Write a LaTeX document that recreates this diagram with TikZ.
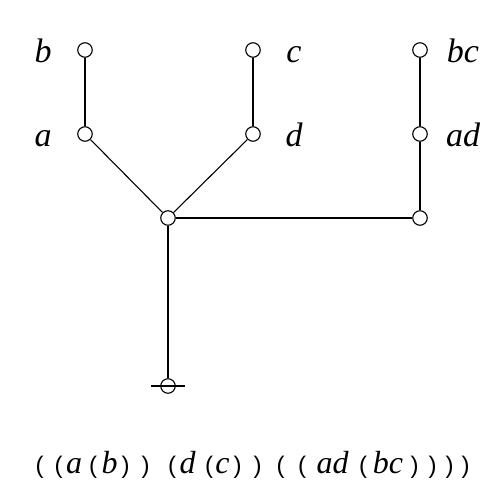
\documentclass[tikz,border=0pt]{standalone}
\usepackage{fontspec}
\setmainfont{Liberation Serif}
\newfontfamily\parfont{Liberation Sans}

\begin{document}
\begin{tikzpicture}[x=1pt, y=-1pt,
    vert/.style={circle, draw, fill=white, line width=1.1pt, minimum size=14.5pt, inner sep=0pt},
    lab/.style={anchor=base, inner sep=0pt, font=\fontsize{34}{38}\selectfont\itshape},
    word/.style={anchor=base, inner sep=0pt, font=\fontsize{32}{36}\selectfont\itshape},
    brk/.style={anchor=base, inner sep=0pt, font=\fontsize{24}{27}\selectfont\parfont}]
                    \useasboundingbox (0,0) rectangle (504,504);
                    
                    % Vertices
                    \node[vert] (b) at (85,50) {};
                    \node[vert] (a) at (85,134) {};
                    \node[vert] (c) at (253,50) {};
                    \node[vert] (d) at (253,134) {};
                    \node[vert] (bc) at (420,50) {};
                    \node[vert] (ad) at (420,134) {};
                    \node[vert] (mid) at (168,218) {};
                    \node[vert] (right) at (420,218) {};
                    \node[vert] (root) at (168,386) {};
                    
                    % Edges
                    \begin{scope}[line width=1.1pt]
                    \draw (b) -- (a);
                    \draw (c) -- (d);
                    \draw (bc) -- (ad);
                    \draw (ad) -- (right);
                    \draw (a) -- (mid);
                    \draw (d) -- (mid);
                    \draw (mid) -- (right);
                    \draw (mid) -- (root);
                    \draw ([xshift=-9pt]root.west) -- ([xshift=9pt]root.east);
                    \end{scope}
                    
                    % Labels
                    \node[lab] (lb) at (43,62) {b};
                    \node[lab] (la) at (43,146) {a};
                    \node[lab] (lc) at (294,62) {c};
                    \node[lab] (ld) at (294,146) {d};
                    \node[lab] (lbc) at (463,62) {bc};
                    \node[lab] (lad) at (463,146) {ad};
                    
                    % Bracket form
                    \foreach \x/\t [count=\i] in {39.5/(, 58.5/(, 93/(, 125.5/), 145.5/), 172/(, 209/(, 237.5/), 257.5/), 280.5/(, 302/(, 363/(, 414.5/), 432.5/), 449.5/), 465.5/)}
                        \node[brk] (p\i) at (\x,473) {\t};
                    \foreach \x/\t [count=\i] in {74/a, 109.5/b, 187.5/d, 222.5/c, 332.5/ad, 388/bc}
                        \node[word] (w\i) at (\x,473) {\t};
                \end{tikzpicture}
\end{document}
